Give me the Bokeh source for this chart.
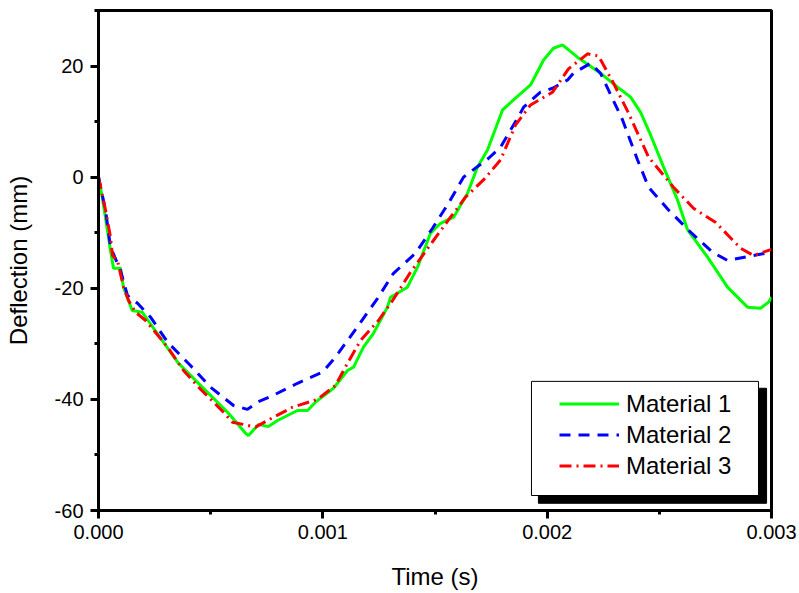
from bokeh.plotting import figure
from bokeh.models import (Range1d, FixedTicker, PrintfTickFormatter, Legend, LegendItem,
                          BoxAnnotation)
from bokeh.embed import file_html
from bokeh.resources import INLINE

# ---- data (time in s, deflection in mm) ----
t1 = [0.0, 0.0000165, 0.0000535, 0.0000669, 0.0000981, 0.0001114, 0.0001502, 0.0001948,
      0.0002617, 0.0003566, 0.0004623, 0.0005795, 0.0006553, 0.0006687, 0.0007132, 0.0007578,
      0.0007979, 0.0008871, 0.0009317, 0.0009673, 0.0010476, 0.001110, 0.001137, 0.001181,
      0.001226, 0.001288, 0.001302, 0.001377, 0.001422, 0.001480, 0.001525, 0.001583,
      0.001645, 0.001689, 0.001734, 0.001801, 0.001850, 0.001926, 0.001984, 0.002028,
      0.002068, 0.002135, 0.002238, 0.002314, 0.002372, 0.002416, 0.002461, 0.002519,
      0.002581, 0.002626, 0.002715, 0.002804, 0.002893, 0.002951, 0.002987, 0.003]
d1 = [0.0, -3.55, -13.15, -16.4, -16.4, -19.8, -24.0, -24.3,
      -28.1, -33.5, -37.8, -42.5, -46.1, -46.5, -44.5, -44.9,
      -43.8, -42.0, -42.0, -40.5, -38.0, -34.8, -34.2, -30.6,
      -28.1, -23.4, -21.6, -19.8, -16.2, -10.1, -8.3, -7.2,
      -2.9, 1.8, 4.9, 12.1, 13.9, 16.6, 21.1, 23.2,
      23.8, 21.6, 18.7, 16.2, 14.4, 11.7, 7.6, 1.8,
      -4.1, -9.5, -14.4, -19.8, -23.4, -23.6, -22.5, -21.6]

t2 = [0.0, 0.0000312, 0.0000535, 0.0000981, 0.000129, 0.000174, 0.000232, 0.000308,
      0.000410, 0.000499, 0.000602, 0.000664, 0.000713, 0.000767, 0.000887, 0.000999,
      0.001056, 0.001146, 0.001244, 0.001315, 0.001413, 0.001489, 0.001560, 0.001627,
      0.001739, 0.001792, 0.001868, 0.001895, 0.001970, 0.002024, 0.002091, 0.002117,
      0.002193, 0.002238, 0.002273, 0.002336, 0.002403, 0.002452, 0.002541, 0.002639,
      0.002737, 0.002804, 0.002920, 0.003]
d2 = [0.0, -5.9, -12.6, -16.8, -21.3, -22.7, -25.2, -29.7,
      -33.9, -37.8, -41.1, -41.8, -40.4, -39.5, -37.1, -35.1,
      -32.4, -27.4, -21.8, -17.3, -13.7, -9.2, -4.7, 0.0,
      3.4, 5.4, 10.6, 12.6, 15.3, 16.0, 17.5, 18.7,
      20.5, 18.7, 15.7, 10.3, 3.1, -1.8, -5.9, -9.9,
      -13.5, -15.0, -14.1, -13.5]

t3 = [0.0, 0.0000312, 0.0000535, 0.0000624, 0.0000847, 0.0001114, 0.000134, 0.000165,
      0.000210, 0.000308, 0.000379, 0.000446, 0.000557, 0.000597, 0.000646, 0.000700,
      0.000744, 0.000865, 0.000976, 0.001056, 0.001110, 0.001168, 0.001248, 0.001311,
      0.001391, 0.001493, 0.001560, 0.001636, 0.001716, 0.001792, 0.001859, 0.001926,
      0.002024, 0.002095, 0.002180, 0.002229, 0.002296, 0.002363, 0.002452, 0.002563,
      0.002652, 0.002750, 0.002862, 0.002920, 0.003]
d3 = [0.0, -5.9, -10.8, -14.1, -15.0, -19.8, -22.2, -24.3,
      -25.8, -30.6, -34.8, -37.8, -42.3, -44.1, -44.5, -45.0,
      -44.0, -41.4, -40.0, -37.5, -33.5, -29.4, -25.8, -22.2,
      -17.1, -11.4, -7.7, -3.6, -0.5, 3.1, 9.4, 13.0,
      15.3, 19.5, 22.2, 21.8, 16.9, 11.5, 3.6, -1.8,
      -5.6, -8.1, -12.8, -14.1, -13.0]

series_names = ["Material 1", "Material 2", "Material 3"]
x_ticks = [0.0, 0.001, 0.002, 0.003]
x_minor = [0.0005, 0.0015, 0.0025]
y_ticks = [-60, -40, -20, 0, 20]
y_minor = [-50, -30, -10, 10, 30]

FONT = "Liberation Sans"

p = figure(width=799, height=593, output_backend="svg", toolbar_location=None,
           x_range=Range1d(0, 0.003), y_range=Range1d(-60, 30),
           min_border_left=98, min_border_right=28, min_border_top=10, min_border_bottom=83,
           x_axis_label="Time (s)", y_axis_label="Deflection (mm)")
p.grid.visible = False
p.background_fill_color = "white"
p.border_fill_color = "white"
p.outline_line_color = "black"
p.outline_line_width = 3
p.outline_line_alpha = 1.0

for ax in (p.xaxis[0], p.yaxis[0]):
    ax.axis_line_width = 3
    ax.axis_line_color = "black"
    ax.major_tick_line_width = 3
    ax.minor_tick_line_width = 3
    ax.major_tick_out = 8
    ax.major_tick_in = 0
    ax.minor_tick_out = 4
    ax.minor_tick_in = 0
    ax.major_label_text_font = FONT
    ax.major_label_text_font_size = "20px"
    ax.major_label_text_color = "black"
    ax.axis_label_text_font = FONT
    ax.axis_label_text_font_size = "24px"
    ax.axis_label_text_font_style = "normal"
    ax.axis_label_text_color = "black"

p.xaxis[0].ticker = FixedTicker(ticks=x_ticks, minor_ticks=x_minor)
p.xaxis[0].formatter = PrintfTickFormatter(format="%.3f")
p.xaxis[0].major_label_standoff = 6
p.xaxis[0].axis_label_standoff = 21
p.yaxis[0].ticker = FixedTicker(ticks=y_ticks, minor_ticks=y_minor)
p.yaxis[0].formatter = PrintfTickFormatter(format="%d")
p.yaxis[0].major_label_standoff = 7
p.yaxis[0].axis_label_standoff = 20

r1 = p.line(t1, d1, line_color="#00ff00", line_width=3)
r2 = p.line(t2, d2, line_color="#0000ff", line_width=3, line_dash="11 8")
r3 = p.line(t3, d3, line_color="#ff0000", line_width=3, line_dash="12 5 2 5")

# legend frame with drop shadow (decoration)
shadow = BoxAnnotation(left=0.001961, right=0.002978, top=-38.0, bottom=-58.7,
                       fill_color="black", fill_alpha=1.0, line_color="black", line_alpha=1.0,
                       level="annotation")
box = BoxAnnotation(left=0.001930, right=0.002942, top=-36.76, bottom=-57.3,
                    fill_color="white", fill_alpha=1.0, line_color="black", line_width=1,
                    line_alpha=1.0, level="annotation")
p.add_layout(shadow)
p.add_layout(box)

legend = Legend(items=[LegendItem(label=series_names[0], renderers=[r1]),
                       LegendItem(label=series_names[1], renderers=[r2]),
                       LegendItem(label=series_names[2], renderers=[r3])],
                location=(461, 29), padding=0, margin=0, spacing=0,
                glyph_width=60, glyph_height=31, label_height=31, label_standoff=7,
                label_text_font=FONT, label_text_font_size="24px", label_text_color="black",
                border_line_alpha=0, background_fill_alpha=0)
p.add_layout(legend)

open("out.html", "w").write(file_html(p, INLINE))
